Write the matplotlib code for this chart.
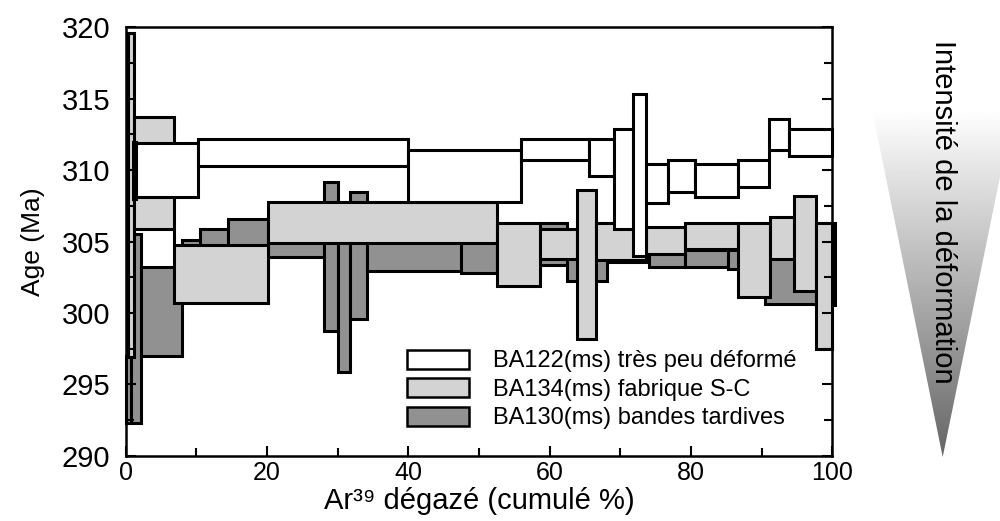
import numpy as np
import matplotlib
matplotlib.use('Agg')
import matplotlib.pyplot as plt
from matplotlib.patches import Patch, Polygon
from matplotlib.ticker import MultipleLocator

plt.rcParams['font.family'] = ['Liberation Sans', 'DejaVu Sans']

## Spectres d'age 39Ar/40Ar : bornes cumulees (%) et enveloppe d'erreur (Ma) par palier
ba122_edges = [1.0, 1.5, 10.3, 39.9, 56.0, 65.5, 69.1, 71.8, 73.7, 76.8, 80.6, 86.7, 91.0, 93.9, 100.0]
ba122_lo = [308.0, 308.1, 310.3, 307.8, 310.7, 309.6, 305.9, 304.0, 307.7, 308.5, 308.1, 308.8, 311.4, 311.0]
ba122_hi = [312.0, 311.9, 312.2, 311.4, 312.2, 312.2, 312.9, 315.3, 310.4, 310.7, 310.4, 310.7, 313.6, 312.9]

ba134_edges = [0.3, 1.2, 6.8, 20.2, 52.6, 58.6, 63.9, 66.6, 73.7, 79.2, 86.7, 91.2, 94.6, 97.7, 100.0]
ba134_lo = [296.9, 305.9, 300.7, 304.9, 301.9, 303.8, 298.15, 303.7, 304.15, 304.5, 301.1, 303.8, 301.5, 297.45]
ba134_hi = [319.6, 313.7, 304.75, 307.8, 306.3, 305.9, 308.6, 306.3, 306.0, 306.3, 306.3, 306.7, 308.2, 306.3]

ba130_edges = [0.1, 0.8, 2.1, 8.0, 10.5, 14.5, 20.2, 28.1, 30.0, 31.7, 34.2, 47.4, 52.6, 58.7,
               62.5, 68.1, 74.0, 79.2, 85.3, 90.5, 97.7, 100.4]
ba130_lo = [292.3, 292.3, 297.0, 302.5, 302.0, 302.5, 303.9, 298.75, 295.85, 299.55, 302.9,
            302.8, 302.8, 303.35, 302.2, 303.6, 303.2, 303.2, 303.1, 300.6, 300.55]
ba130_hi = [297.0, 305.5, 303.2, 305.1, 305.9, 306.55, 305.6, 309.2, 305.5, 308.5, 305.3,
            305.2, 305.5, 306.3, 304.5, 305.0, 304.5, 304.4, 304.4, 303.9, 306.3]

labels = ['BA122(ms) très peu déformé', 'BA134(ms) fabrique S-C', 'BA130(ms) bandes tardives']

col = {}
col['ba122'] = 'white'
col['ba134'] = '#d3d3d3'
col['ba130'] = '#919191'

LW = 2.2


def plot_spectrum(ax, edges, lo, hi, color, z):
    edges = np.asarray(edges)
    lo = np.asarray(lo)
    hi = np.asarray(hi)
    ax.bar(edges[:-1], hi - lo, width=np.diff(edges), bottom=lo, align='edge',
           color=color, edgecolor='black', linewidth=LW, zorder=z, clip_on=False)
    # traits verticaux entre paliers qui ne se recouvrent pas
    for i in range(len(lo) - 1):
        if lo[i + 1] > hi[i]:
            ax.vlines(edges[i + 1], hi[i], lo[i + 1], color='black', lw=LW, zorder=z + 0.05)
        elif hi[i + 1] < lo[i]:
            ax.vlines(edges[i + 1], hi[i + 1], lo[i], color='black', lw=LW, zorder=z + 0.05)


fig = plt.figure(figsize=(10, 5.21), dpi=100)
ax = fig.add_axes([0.1257, 0.1253, 0.7066, 0.8223])

plot_spectrum(ax, ba130_edges, ba130_lo, ba130_hi, col['ba130'], 1.0)
plot_spectrum(ax, ba134_edges, ba134_lo, ba134_hi, col['ba134'], 1.3)
plot_spectrum(ax, ba122_edges, ba122_lo, ba122_hi, col['ba122'], 1.6)

ax.set_xlim(0, 100)
ax.set_ylim(290, 320)
ax.xaxis.set_major_locator(MultipleLocator(20))
ax.xaxis.set_minor_locator(MultipleLocator(10))
ax.yaxis.set_major_locator(MultipleLocator(5))
ax.yaxis.set_minor_locator(MultipleLocator(2.5))
ax.tick_params(which='both', direction='in', top=False, right=True, width=1.5)
ax.tick_params(which='major', length=7)
ax.tick_params(which='minor', length=6)
ax.tick_params(axis='y', labelsize=21, pad=11)
ax.tick_params(axis='x', labelsize=18, pad=4)
for sp in ax.spines.values():
    sp.set_linewidth(1.8)

ax.set_ylabel('Age (Ma)', fontsize=19, labelpad=12)
ax.set_xlabel('Ar³⁹ dégazé (cumulé %)', fontsize=21, labelpad=1)

handles = [Patch(facecolor=col[k], edgecolor='black', linewidth=1.8)
           for k in ['ba122', 'ba134', 'ba130']]
ax.legend(handles, labels, loc='upper left', bbox_to_anchor=(0.3977, 0.247),
          frameon=False, fontsize=17, handlelength=2.65, handleheight=0.85,
          handletextpad=1.0, labelspacing=0.25, borderpad=0, borderaxespad=0)

# triangle degrade : intensite de la deformation
deco = fig.add_axes([0.84, 0, 0.16, 1])
deco.set_xlim(840, 1000)
deco.set_ylim(521, 0)
deco.axis('off')
tri = Polygon([[858, 40], [1028, 40], [942.7, 457]], closed=True, facecolor='none',
              edgecolor='none', transform=deco.transData)
deco.add_patch(tri)
yy = np.linspace(0, 521, 400)
shade = np.clip(1 - (yy - 110) / (457 - 110) * 0.6, 0, 1)
img = deco.imshow(shade[:, None], cmap='gray', vmin=0, vmax=1, aspect='auto',
                  extent=[840, 1000, 521, 0], interpolation='bilinear')
img.set_clip_path(tri)
deco.set_xlim(840, 1000)
deco.set_ylim(521, 0)
deco.text(943, 212, 'Intensité de la déformation', rotation=-90, fontsize=21,
          ha='center', va='center')

fig.savefig('out.png', dpi=100)
